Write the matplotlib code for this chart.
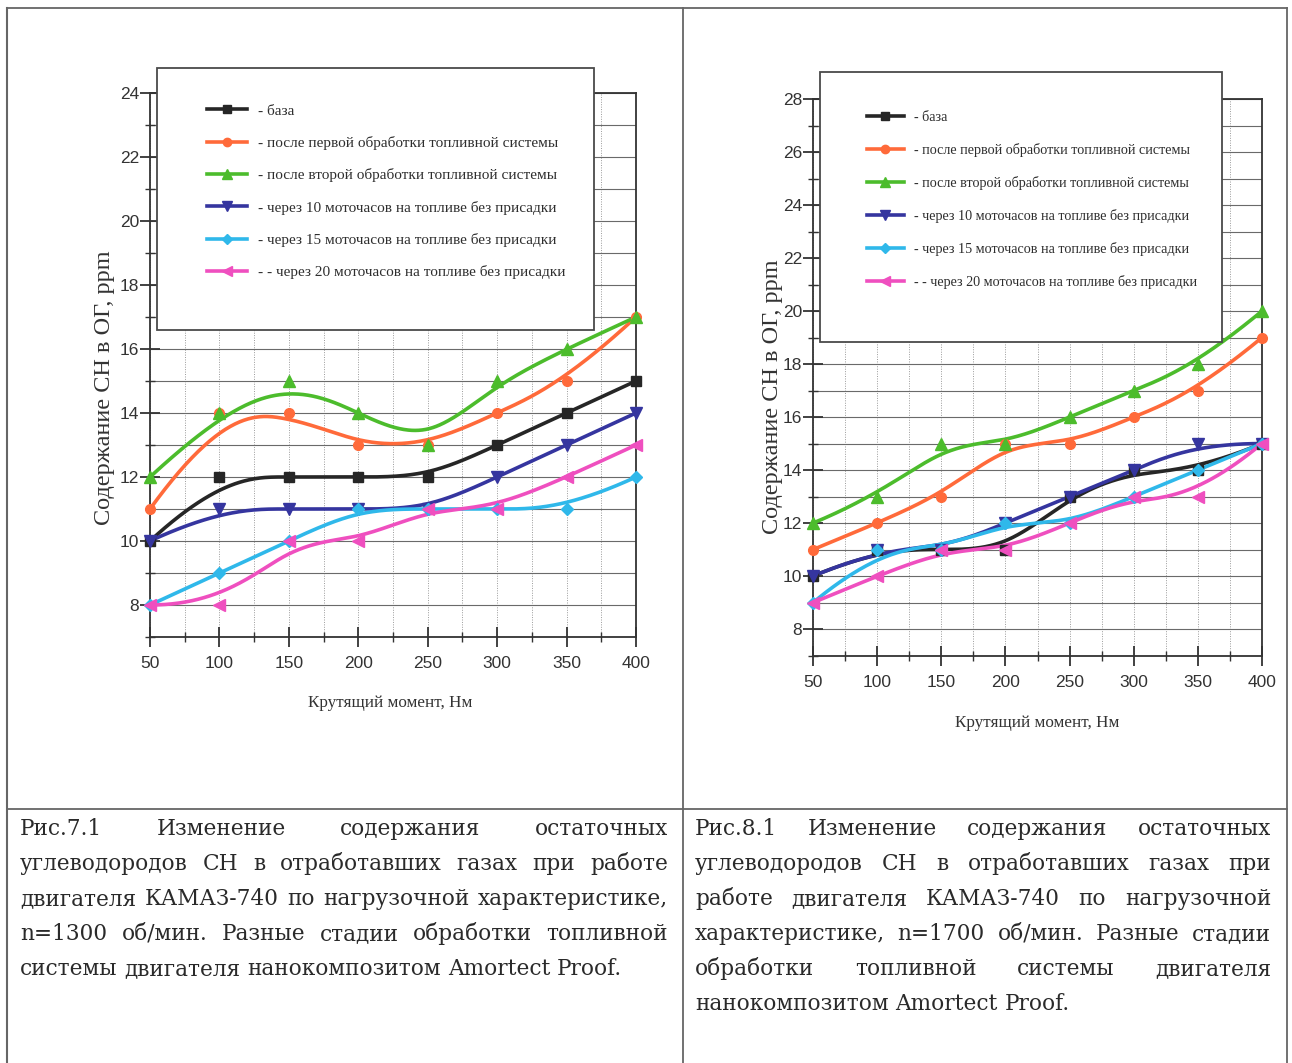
import numpy as np
import matplotlib
matplotlib.use("Agg")
import matplotlib.pyplot as plt
from matplotlib import font_manager
from matplotlib.patches import Rectangle
from matplotlib.lines import Line2D
from matplotlib.ticker import MultipleLocator

# ---------------- data ----------------
torque = [50, 100, 150, 200, 250, 300, 350, 400]

labels = [
    "- база",
    "- после первой обработки топливной системы",
    "- после второй обработки топливной системы",
    "- через 10 моточасов на топливе без присадки",
    "- через 15 моточасов на топливе без присадки",
    "- - через 20 моточасов на топливе без присадки",
]

# Fig 7.1, n=1300 rpm
ch_1300_base = [10, 12, 12, 12, 12, 13, 14, 15]
ch_1300_first = [11, 14, 14, 13, 13, 14, 15, 17]
ch_1300_second = [12, 14, 15, 14, 13, 15, 16, 17]
ch_1300_10h = [10, 11, 11, 11, 11, 12, 13, 14]
ch_1300_15h = [8, 9, 10, 11, 11, 11, 11, 12]
ch_1300_20h = [8, 8, 10, 10, 11, 11, 12, 13]

# Fig 8.1, n=1700 rpm
ch_1700_base = [10, 11, 11, 11, 13, 14, 14, 15]
ch_1700_first = [11, 12, 13, 15, 15, 16, 17, 19]
ch_1700_second = [12, 13, 15, 15, 16, 17, 18, 20]
ch_1700_10h = [10, 11, 11, 12, 13, 14, 15, 15]
ch_1700_15h = [9, 11, 11, 12, 12, 13, 14, 15]
ch_1700_20h = [9, 10, 11, 11, 12, 13, 13, 15]

caption_left = [
    "Рис.7.1 Изменение содержания остаточных",
    "углеводородов СН в отработавших газах при работе",
    "двигателя КАМАЗ-740 по нагрузочной характеристике,",
    "n=1300 об/мин. Разные стадии обработки топливной",
    "системы двигателя нанокомпозитом Amortect Proof.",
]
caption_right = [
    "Рис.8.1 Изменение содержания остаточных",
    "углеводородов СН в отработавших газах при",
    "работе двигателя КАМАЗ-740 по нагрузочной",
    "характеристике, n=1700 об/мин. Разные стадии",
    "обработки топливной системы двигателя",
    "нанокомпозитом Amortect Proof.",
]

xlabel = "Крутящий момент, Нм"
ylabel = "Содержание СН в ОГ, ppm"

# ---------------- styles ----------------
colors = ["#262626", "#ff6a3a", "#4cbc2c", "#35359f", "#2fb8ea", "#ef4fbf"]
markers = ["s", "o", "^", "v", "D", "<"]
msizes = [7, 7, 8, 8, 6.5, 8]

avail = {f.name for f in font_manager.fontManager.ttflist}
def pick(*names):
    for n in names:
        if n in avail:
            return n
    return "DejaVu Sans"

SERIF = pick("Liberation Serif", "DejaVu Serif")
NARROW = pick("Liberation Sans Narrow", "Liberation Sans", "DejaVu Sans")
CAPF = pick("DejaVu Serif", "Liberation Serif")

W, H = 1292, 1063
fig = plt.figure(figsize=(W / 100, H / 100), dpi=100)
fig.patch.set_facecolor("white")


def bspline(xs, ys, num=400):
    """Clamped uniform cubic B-spline with the data points as control points
    (Origin-style 'B-Spline' line connection)."""
    P = np.column_stack([xs, ys]).astype(float)
    n = len(P)
    k = 3
    knots = np.concatenate([np.zeros(k), np.arange(0, n - k + 1), np.full(k, n - k)]).astype(float)
    ts = np.linspace(0, n - k, num)
    out = []
    for t in ts:
        N = np.zeros(len(knots) - 1)
        for i in range(len(knots) - 1):
            if knots[i] <= t < knots[i + 1]:
                N[i] = 1.0
        if t >= knots[-1]:
            N[n - 1] = 1.0
        for d in range(1, k + 1):
            Nn = np.zeros(len(knots) - 1 - d)
            for i in range(len(Nn)):
                a = 0.0
                den1 = knots[i + d] - knots[i]
                den2 = knots[i + d + 1] - knots[i + 1]
                if den1 > 0:
                    a += (t - knots[i]) / den1 * N[i]
                if den2 > 0:
                    a += (knots[i + d + 1] - t) / den2 * N[i + 1]
                Nn[i] = a
            N = Nn
        out.append(N[:n] @ P)
    out = np.array(out)
    return out[:, 0], out[:, 1]


def make_chart(rect, series, ymax, xlab_pos, ylab_pos, legend_box, legend_anchor,
               lspacing, lfs):
    ax = fig.add_axes(rect)
    ax.set_xlim(50, 400)
    ax.set_ylim(7, ymax)
    ax.xaxis.set_major_locator(MultipleLocator(50))
    ax.xaxis.set_minor_locator(MultipleLocator(25))
    ax.yaxis.set_major_locator(MultipleLocator(2))
    ax.yaxis.set_minor_locator(MultipleLocator(1))
    ax.set_yticks([v for v in range(8, ymax + 1, 2)])
    ax.grid(True, which="both", axis="y", color="#6a6a6a", lw=0.8)
    ax.grid(True, which="both", axis="x", color="#9a9a9a", lw=0.7, ls=(0, (1, 1.5)))
    ax.set_axisbelow(True)
    for s in ax.spines.values():
        s.set_color("#333333")
        s.set_linewidth(1.3)
    ax.tick_params(which="major", direction="inout", length=14, width=1.3, color="#333333",
                   labelsize=12.5, labelcolor="#333333")
    ax.tick_params(axis="y", which="major", pad=1)
    ax.tick_params(axis="x", which="major", pad=7)
    ax.tick_params(which="minor", direction="inout", length=7, width=1.0, color="#333333")
    for lab in ax.get_xticklabels() + ax.get_yticklabels():
        lab.set_fontfamily(NARROW)
    for i, ys in enumerate(series):
        sx, sy = bspline(torque, ys)
        ax.plot(sx, sy, color=colors[i], lw=2.6, solid_capstyle="round", clip_on=False, zorder=3)
        ax.plot(torque, ys, ls="none", marker=markers[i], ms=msizes[i], color=colors[i],
                clip_on=False, zorder=4)
    ax.set_xlabel(xlabel, fontfamily=SERIF, fontsize=12.3, color="#333333", va="center")
    ax.xaxis.set_label_coords(*xlab_pos)
    ax.set_ylabel(ylabel, fontfamily=SERIF, fontsize=17.5, color="#333333", va="center")
    ax.yaxis.set_label_coords(*ylab_pos)

    # legend box (covers the plot area, as in the original)
    x0, y0, x1, y1 = legend_box
    fig.patches.append(Rectangle((x0 / W, 1 - y1 / H), (x1 - x0) / W, (y1 - y0) / H,
                                 transform=fig.transFigure, facecolor="white",
                                 edgecolor="#4a4a4a", lw=1.3, zorder=4))
    handles = [Line2D([], [], color=colors[i], lw=2.6, marker=markers[i], ms=msizes[i] - 1)
               for i in range(6)]
    leg = fig.legend(handles, labels, loc="upper left",
                     bbox_to_anchor=(legend_anchor[0] / W, 1 - legend_anchor[1] / H),
                     frameon=False, prop={"family": SERIF, "size": lfs},
                     labelcolor="#2e2e2e", handlelength=2.6, handletextpad=0.75,
                     labelspacing=lspacing, borderpad=0, borderaxespad=0)
    leg.set_zorder(6)
    return ax


s1300 = [ch_1300_base, ch_1300_first, ch_1300_second, ch_1300_10h, ch_1300_15h, ch_1300_20h]
s1700 = [ch_1700_base, ch_1700_first, ch_1700_second, ch_1700_10h, ch_1700_15h, ch_1700_20h]

# chart 1: pixel frame left 150, right 636, top 93 (y=24), bottom 637 (y=7)
ax1 = make_chart([150 / W, 1 - 637 / H, 486 / W, 544 / H], s1300, 24,
                 xlab_pos=(0.494, -0.121), ylab_pos=(-0.093, 0.458),
                 legend_box=(157, 68, 594, 330), legend_anchor=(207, 104),
                 lspacing=1.2, lfs=11.0)
# chart 2: left 813, right 1262, top 99 (y=28), bottom 655 (y=7)
ax2 = make_chart([813 / W, 1 - 655.6 / H, 449 / W, 556.6 / H], s1700, 28,
                 xlab_pos=(0.499, -0.121), ylab_pos=(-0.091, 0.466),
                 legend_box=(820, 72, 1222, 342), legend_anchor=(867, 111),
                 lspacing=1.34, lfs=10.2)

# ---------------- table borders ----------------
tc = "#666666"
fig.add_artist(Line2D([7 / W, 1287 / W], [1 - 8 / H, 1 - 8 / H], transform=fig.transFigure, color=tc, lw=1.3))
fig.add_artist(Line2D([7 / W, 7 / W], [1 - 8 / H, 0], transform=fig.transFigure, color=tc, lw=1.5))
fig.add_artist(Line2D([1287 / W, 1287 / W], [1 - 8 / H, 0], transform=fig.transFigure, color=tc, lw=1.3))
fig.add_artist(Line2D([683 / W, 683 / W], [1 - 8 / H, 0], transform=fig.transFigure, color=tc, lw=1.3))
fig.add_artist(Line2D([7 / W, 1287 / W], [1 - 809 / H, 1 - 809 / H], transform=fig.transFigure, color=tc, lw=1.3))

# ---------------- justified captions ----------------
renderer = fig.canvas.get_renderer()
CAP_FS = 15.6


def caption(lines, x0, x1, ybase0, step):
    for li, line in enumerate(lines):
        yb = ybase0 + li * step
        words = line.split(" ")
        texts = [fig.text(0, 1 - yb / H, w, fontfamily=CAPF, fontsize=CAP_FS, color="#2a2a2a",
                          ha="left", va="baseline") for w in words]
        widths = [t.get_window_extent(renderer).width for t in texts]
        last = li == len(lines) - 1
        if last or len(words) == 1:
            sp = fig.text(0, 0, "a a", fontfamily=CAPF, fontsize=CAP_FS)
            sp2 = fig.text(0, 0, "aa", fontfamily=CAPF, fontsize=CAP_FS)
            gap = sp.get_window_extent(renderer).width - sp2.get_window_extent(renderer).width
            sp.remove(); sp2.remove()
        else:
            gap = (x1 - x0 - sum(widths)) / (len(words) - 1)
        x = x0
        for t, w in zip(texts, widths):
            t.set_x(x / W)
            x += w + gap


caption(caption_left, 20, 668, 835, 35)
caption(caption_right, 695, 1271, 835, 35)

fig.savefig("out.png", dpi=100, facecolor="white")
